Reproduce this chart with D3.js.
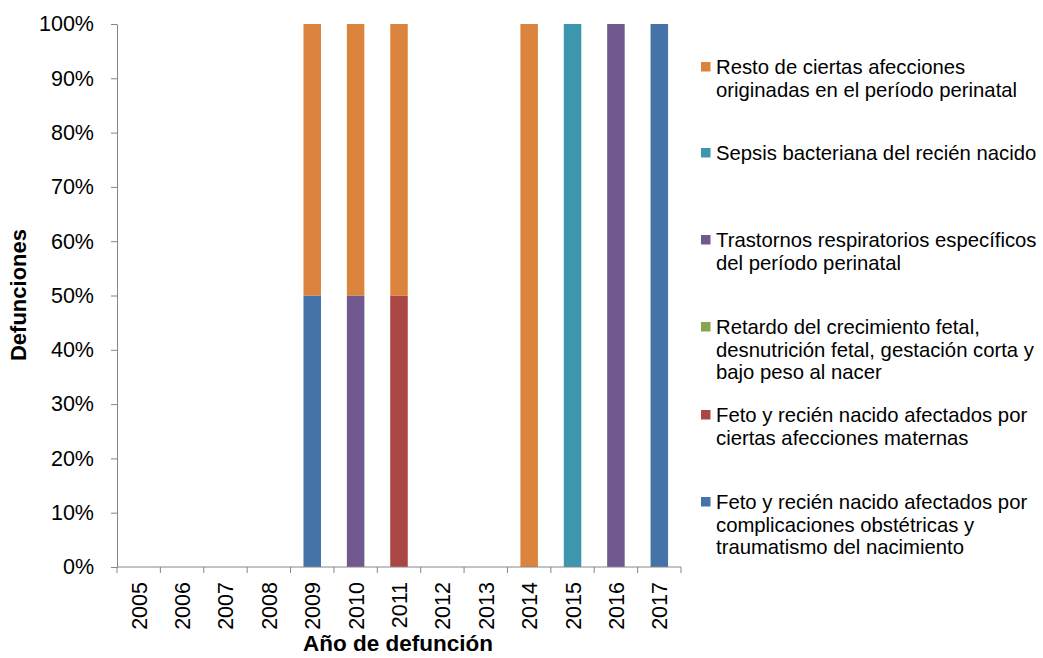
<!DOCTYPE html>
<html>
<head>
<meta charset="utf-8">
<script src="https://cdn.jsdelivr.net/npm/d3@7"></script>
<style>
  body { margin: 0; background: #fff; }
  text { font-family: "Liberation Sans", Arial, sans-serif; fill: #000; }
</style>
</head>
<body>
<svg id="chart" width="1043" height="658"></svg>
<script>
// Years on the x axis
const years = ["2005", "2006", "2007", "2008", "2009", "2010", "2011",
  "2012", "2013", "2014", "2015", "2016", "2017"];

// Series, bottom of the stack first (percent of deaths per year)
const seriesNames = [
  "Feto y recién nacido afectados por complicaciones obstétricas y traumatismo del nacimiento",
  "Feto y recién nacido afectados por ciertas afecciones maternas",
  "Retardo del crecimiento fetal, desnutrición fetal, gestación corta y bajo peso al nacer",
  "Trastornos respiratorios específicos del período perinatal",
  "Sepsis bacteriana del recién nacido",
  "Resto de ciertas afecciones originadas en el período perinatal"
];
const complicaciones = [0, 0, 0, 0, 50, 0, 0, 0, 0, 0, 0, 0, 100];
const maternas       = [0, 0, 0, 0, 0, 0, 50, 0, 0, 0, 0, 0, 0];
const retardo        = [0, 0, 0, 0, 0, 0, 0, 0, 0, 0, 0, 0, 0];
const respiratorios  = [0, 0, 0, 0, 0, 50, 0, 0, 0, 0, 0, 100, 0];
const sepsis         = [0, 0, 0, 0, 0, 0, 0, 0, 0, 0, 100, 0, 0];
const resto          = [0, 0, 0, 0, 50, 50, 50, 0, 0, 100, 0, 0, 0];

// Legend wording, split as in the original (top entry first)
const legendLines = [
  ["Resto de ciertas afecciones", "originadas en el período perinatal"],
  ["Sepsis bacteriana del recién nacido"],
  ["Trastornos respiratorios específicos", "del período perinatal"],
  ["Retardo del crecimiento fetal,", "desnutrición fetal, gestación corta y", "bajo peso al nacer"],
  ["Feto y recién nacido afectados por", "ciertas afecciones maternas"],
  ["Feto y recién nacido afectados por", "complicaciones obstétricas y", "traumatismo del nacimiento"]
];
const yTicks = [0, 10, 20, 30, 40, 50, 60, 70, 80, 90, 100];

const colors = ["#4572A7", "#AA4643", "#89A54E", "#71588F", "#3D96AE", "#DB843D"];

// Build table for d3.stack
const seriesValues = [complicaciones, maternas, retardo, respiratorios, sepsis, resto];
const table = years.map((y, i) => {
  const row = { year: y };
  seriesNames.forEach((s, j) => { row[s] = seriesValues[j][i]; });
  return row;
});
const stacked = d3.stack().keys(seriesNames)(table);

const margin = { top: 24, right: 362, bottom: 91, left: 117 };
const width = 1043 - margin.left - margin.right;
const height = 658 - margin.top - margin.bottom;

const svg = d3.select("#chart")
  .append("g")
  .attr("transform", "translate(" + margin.left + "," + margin.top + ")");

const xBand = d3.scaleBand().domain(years).range([0, width]);
const yScale = d3.scaleLinear().domain([0, 100]).range([height, 0]);
const barWidth = 17.5;

// Bars
svg.selectAll(".series")
  .data(stacked)
  .enter()
  .append("g")
  .attr("class", "series")
  .attr("fill", (d, i) => colors[i])
  .selectAll("rect")
  .data((d) => d.filter((p) => p[1] - p[0] > 0))
  .enter()
  .append("rect")
  .attr("x", (d) => xBand(d.data.year) + (xBand.bandwidth() - barWidth) / 2)
  .attr("width", barWidth)
  .attr("y", (d) => yScale(d[1]))
  .attr("height", (d) => yScale(d[0]) - yScale(d[1]));

// Y axis
const yAxis = svg.append("g")
  .call(d3.axisLeft(yScale).tickValues(yTicks).tickFormat((d) => d + "%").tickSize(6).tickSizeOuter(0));
yAxis.selectAll("text").attr("x", -23).attr("font-size", 21.5);

// X axis: ticks on band boundaries
const xAxis = svg.append("g").attr("transform", "translate(0," + height + ")");
xAxis.append("line").attr("x1", 0).attr("x2", width).attr("y1", 0).attr("y2", 0);
xAxis.selectAll(".xt")
  .data(years.concat(["end"]))
  .enter()
  .append("line")
  .attr("class", "xt")
  .attr("x1", (d, i) => i * xBand.step())
  .attr("x2", (d, i) => i * xBand.step())
  .attr("y1", 0)
  .attr("y2", 6);
xAxis.selectAll(".xl")
  .data(years)
  .enter()
  .append("text")
  .attr("class", "xl")
  .attr("transform", (d) => "translate(" + (xBand(d) + xBand.bandwidth() / 2 + 8) + ",15) rotate(-90)")
  .attr("text-anchor", "end")
  .attr("font-size", 21.5)
  .text((d) => d);

svg.selectAll(".domain, .tick line").attr("stroke", "#868686");
xAxis.selectAll("line").attr("stroke", "#868686");

// Axis titles
svg.append("text")
  .attr("text-anchor", "middle")
  .attr("x", 398 - margin.left)
  .attr("y", 651 - margin.top)
  .attr("font-size", 22.5)
  .attr("font-weight", "bold")
  .text("Año de defunción");

svg.append("text")
  .attr("text-anchor", "middle")
  .attr("transform", "translate(" + (26 - margin.left) + "," + (295 - margin.top) + ") rotate(-90)")
  .attr("font-size", 22)
  .attr("font-weight", "bold")
  .text("Defunciones");

// Legend
const legendTop = [67, 153, 240, 327, 415, 502];
const legend = d3.select("#chart")
  .selectAll(".legend")
  .data(legendLines)
  .enter()
  .append("g")
  .attr("class", "legend")
  .attr("transform", (d, i) => "translate(701," + legendTop[i] + ")");

legend.append("rect")
  .attr("x", 0)
  .attr("y", -5)
  .attr("width", 9.5)
  .attr("height", 9.5)
  .attr("fill", (d, i) => colors[colors.length - 1 - i]);

legend.append("text")
  .attr("x", 15)
  .attr("y", 0)
  .attr("font-size", 20.3)
  .selectAll("tspan")
  .data((d) => d)
  .enter()
  .append("tspan")
  .attr("x", 15)
  .attr("dy", (d, i) => (i === 0 ? "0.35em" : "22.5"))
  .text((d) => d);
</script>
</body>
</html>
